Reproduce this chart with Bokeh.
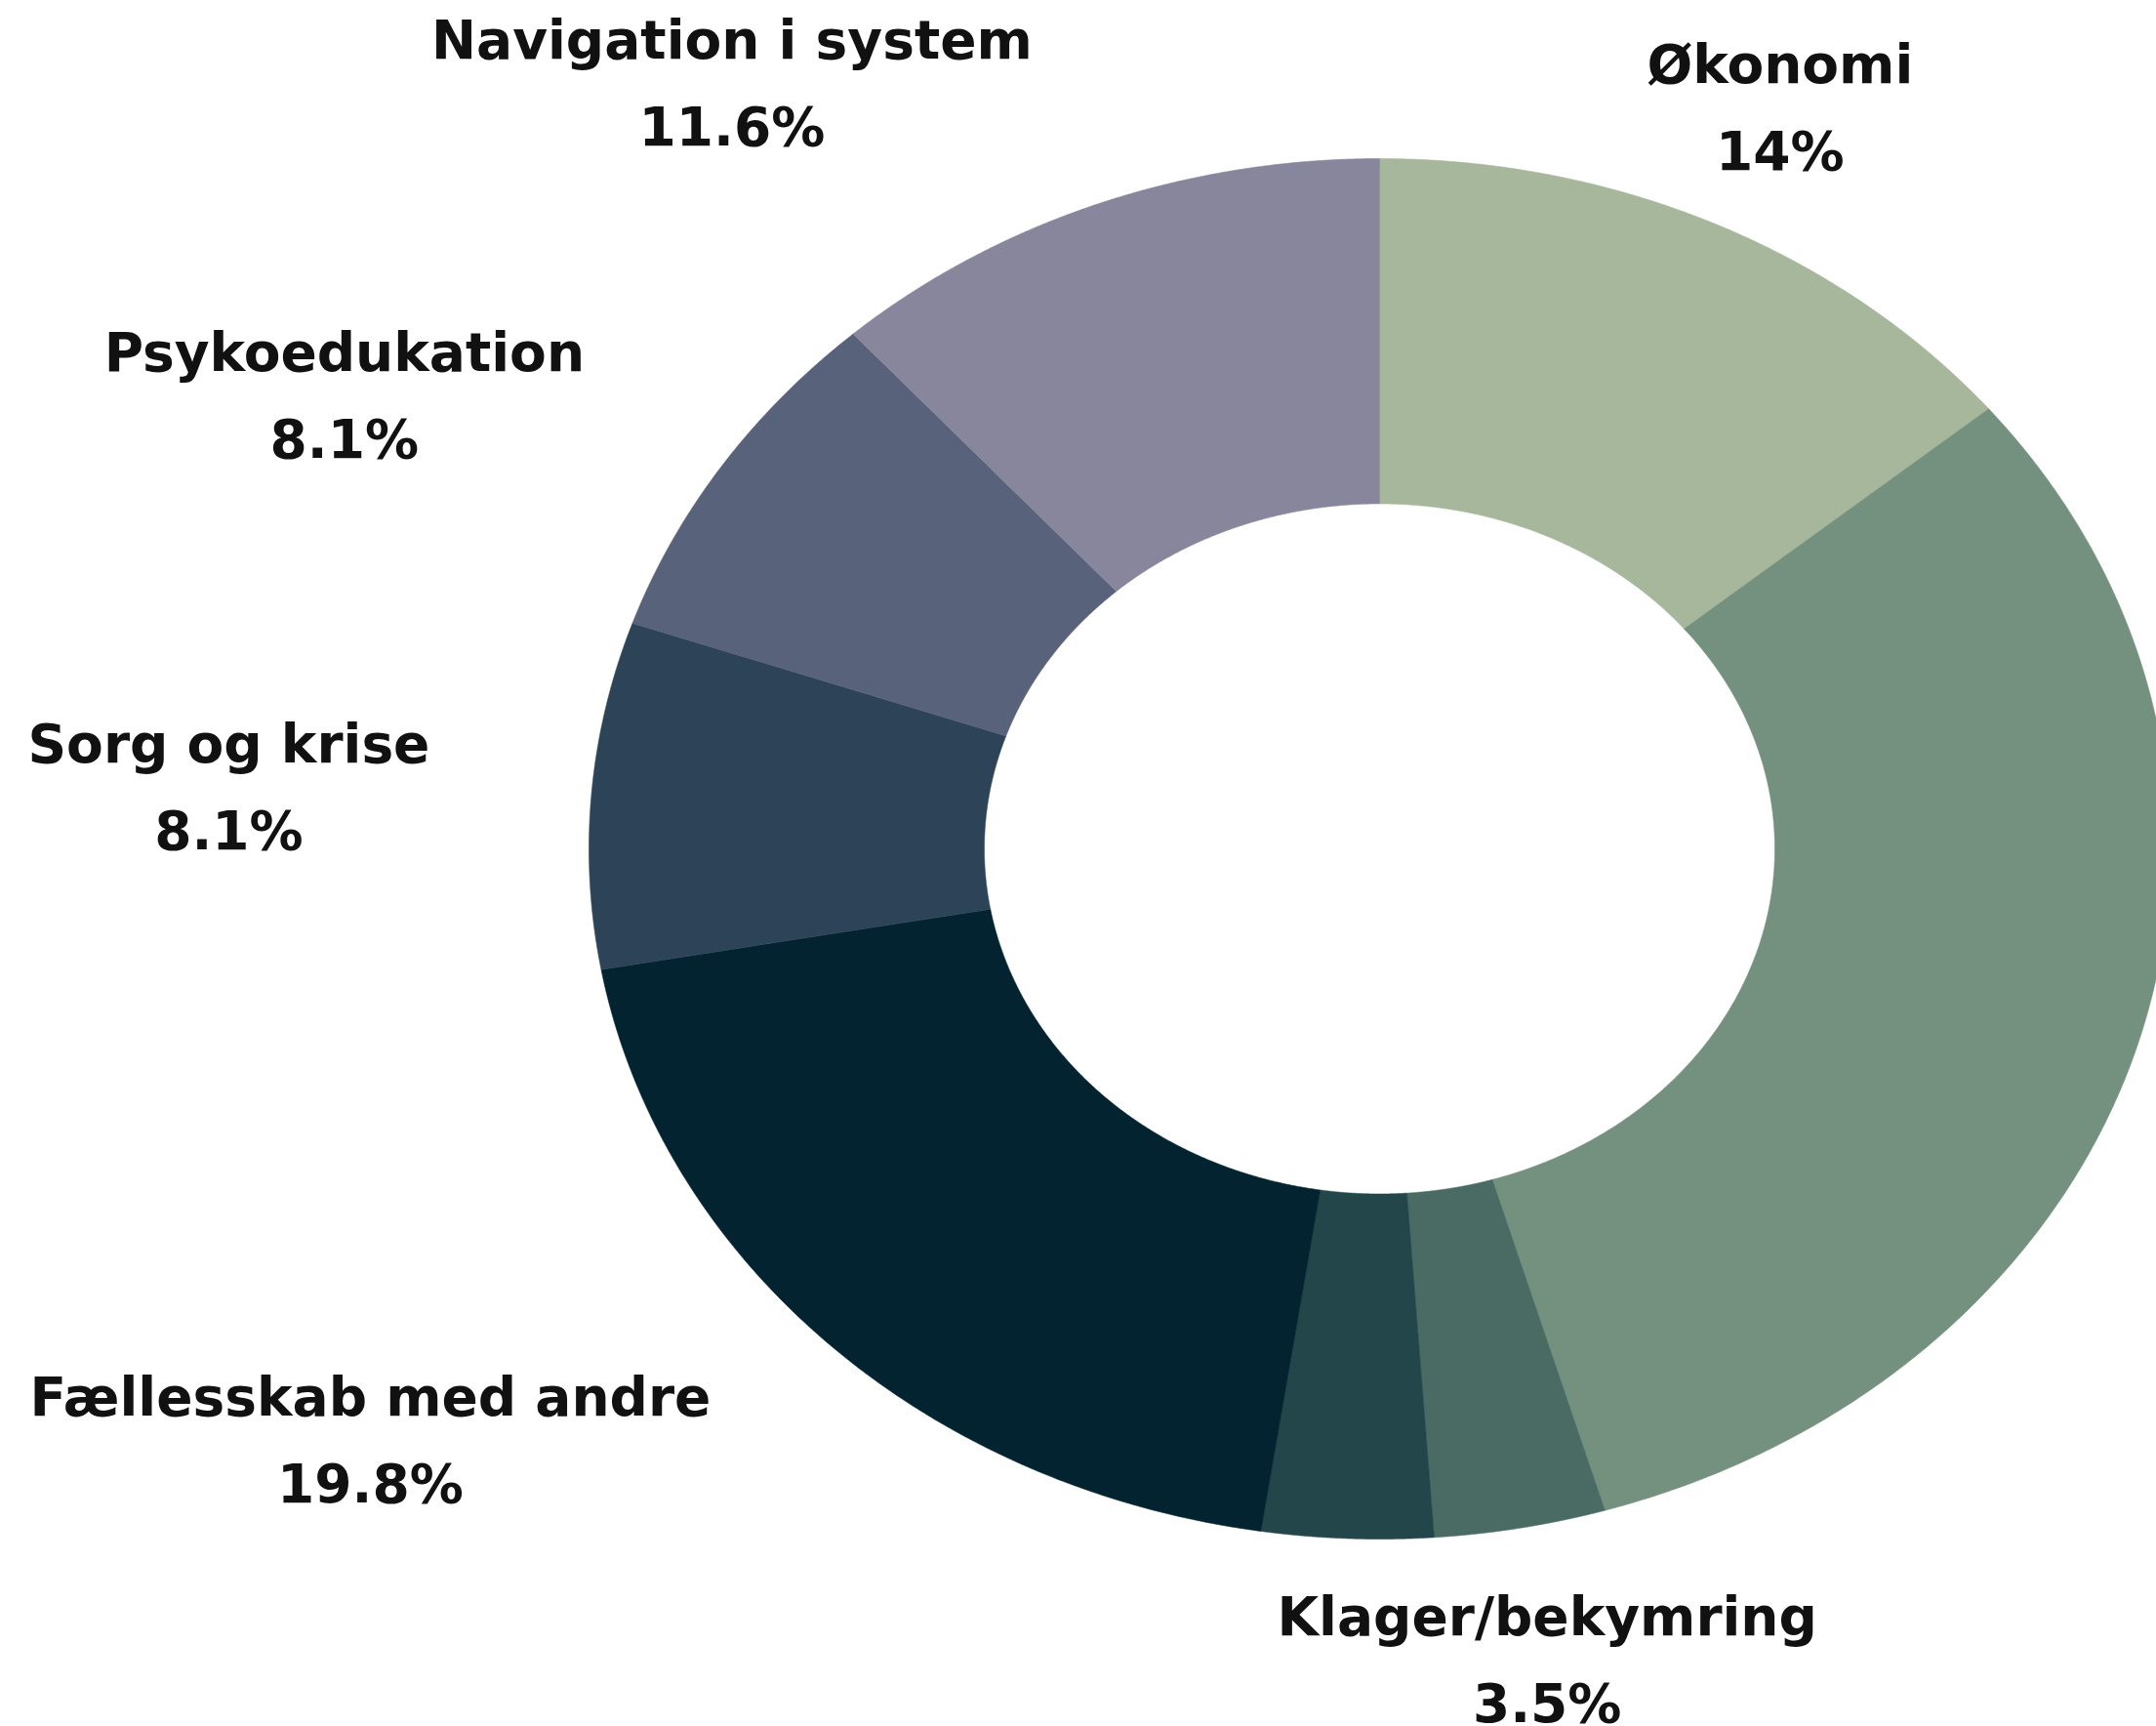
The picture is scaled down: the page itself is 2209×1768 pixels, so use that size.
import numpy as np
from bokeh.plotting import figure
from bokeh.models import ColumnDataSource, Range1d
from bokeh.core.properties import value, field
from bokeh.embed import file_html
from bokeh.resources import INLINE

# ---- data (clockwise from 12 o'clock) ----
categories = ["Økonomi", "Øvrige", "Klager/bekymring", "Andet",
              "Fællesskab med andre", "Sorg og krise", "Psykoedukation",
              "Navigation i system"]
shares = [14.0, 31.4, 3.5, 3.5, 19.8, 8.1, 8.1, 11.6]
show_label = [True, False, True, False, True, True, True, True]
colors = ["#A7B79C", "#74917F", "#4A6B63", "#22464A",
          "#02232F", "#2D4458", "#58627A", "#88869D"]

W, H = 2209, 1768
CX, CY = 1413, 869      # pixel centre of donut
RX, RY = 810, 707       # pixel radii (ellipse)
INNER = 0.5

p = figure(width=W, height=H, output_backend="svg", toolbar_location=None,
           x_range=Range1d(-CX / RX, (W - CX) / RX),
           y_range=Range1d(-(H - CY) / RY, CY / RY),
           x_axis_location=None, y_axis_location=None,
           min_border=0, background_fill_color="white",
           border_fill_color="white")
p.grid.visible = False
p.outline_line_color = None

total = float(sum(shares))
cum = np.concatenate([[0.0], np.cumsum(shares)]) / total * 2 * np.pi

xs, ys = [], []
for a0, a1 in zip(cum[:-1], cum[1:]):
    t = np.linspace(a0, a1, 240)
    xo, yo = np.sin(t), np.cos(t)
    xs.append(np.concatenate([xo, INNER * xo[::-1]]).tolist())
    ys.append(np.concatenate([yo, INNER * yo[::-1]]).tolist())

p.patches(xs, ys, fill_color=colors, line_color=colors, line_width=0.6)

mid = (cum[:-1] + cum[1:]) / 2
lx, ly, txt, anc = [], [], [], []
for name, v, m, s in zip(categories, shares, mid, show_label):
    if not s:
        continue
    left = np.sin(m) < -0.05
    lx.append(1.19 * np.sin(m) - (0.015 if left else 0.0))
    ly.append(1.191 * np.cos(m) - 0.004)
    txt.append(f"{name}\n{v:g}%")
    anc.append("center_right" if left else "center")

src = ColumnDataSource(dict(x=lx, y=ly, text=txt, anc=anc))
p.text(x="x", y="y", text="text", source=src, anchor=field("anc"),
       text_align="center", text_baseline="middle",
       text_font=value("DejaVu Sans"), text_font_style="bold",
       text_font_size="55px", text_line_height=1.39, text_color="#111111")

open("out.html", "w").write(file_html(p, INLINE))
